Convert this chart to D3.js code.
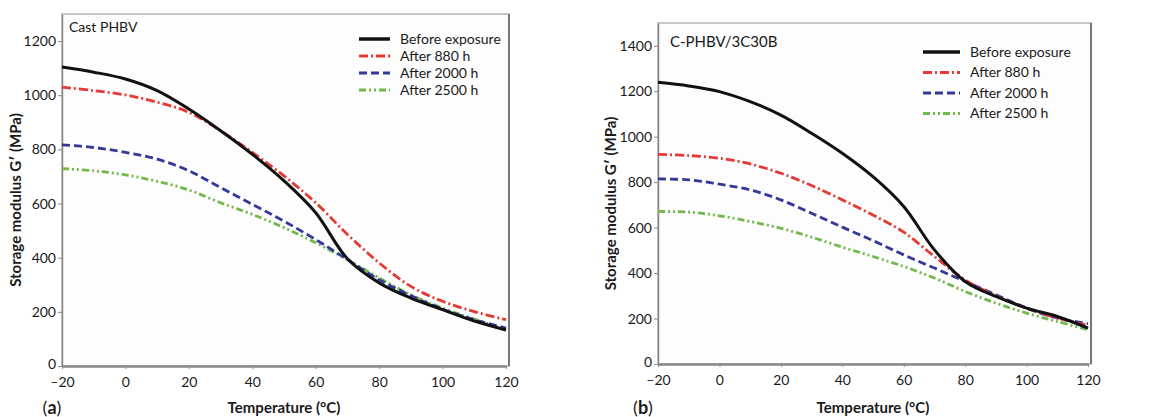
<!DOCTYPE html>
<html>
<head>
<meta charset="utf-8">
<script src="https://cdn.jsdelivr.net/npm/d3@7"></script>
<style>
  body { margin: 0; background: #fff; }
  svg text { font-family: Lato, 'Open Sans', sans-serif; fill: #1a1a1a; }
  .axis path, .axis line { stroke: #8a8a8a; }
</style>
</head>
<body>
<div id="chart"></div>
<script>
// temperature grid (°C) shared by all curves
const temps = [-20, -10, 0, 10, 20, 30, 40, 50, 60, 70, 80, 90, 100, 110, 120]
const xTicks = [-20, 0, 20, 40, 60, 80, 100, 120]

const seriesNames = ['Before exposure', 'After 880 h', 'After 2000 h', 'After 2500 h']

// panel (a) Cast PHBV, storage modulus (MPa)
const castBefore = [1104, 1085, 1060, 1017, 949, 869, 782, 684, 566, 396, 307, 251, 208, 166, 133]
const cast880    = [1030, 1017, 1001, 974, 937, 869, 789, 702, 603, 486, 381, 294, 239, 201, 171]
const cast2000   = [817, 807, 789, 764, 721, 659, 597, 535, 467, 393, 319, 260, 210, 171, 140]
const cast2500   = [729, 721, 706, 682, 650, 603, 560, 511, 455, 393, 325, 263, 214, 173, 133]

// panel (b) C-PHBV/3C30B
const compBefore = [1239, 1223, 1198, 1154, 1095, 1015, 927, 824, 693, 502, 363, 297, 246, 209, 158]
const comp880    = [922, 917, 905, 880, 839, 785, 722, 655, 580, 473, 370, 300, 246, 202, 170]
const comp2000   = [814, 810, 791, 766, 722, 663, 602, 543, 480, 422, 363, 305, 246, 202, 178]
const comp2500   = [671, 668, 652, 627, 597, 558, 514, 473, 429, 378, 319, 268, 224, 187, 151]

const styles = [
  { color: '#111111', dash: null,            width: 3 },
  { color: '#e53935', dash: '9,3,2,3',       width: 2.8 },
  { color: '#34389a', dash: '8,4',           width: 2.8 },
  { color: '#72b84a', dash: '7,3,2,3,2,3',   width: 2.8 }
]

const panels = [
  {
    title: 'Cast PHBV', tag: 'a', yMax: 1300, yTicks: [0, 200, 400, 600, 800, 1000, 1200],
    series: [castBefore, cast880, cast2000, cast2500],
    box: { left: 62, right: 506, top: 14, bottom: 366 },
    legend: { x: 359, y: 39, len: 31, gap: 17 },
    titleFs: 14, yLabelX: 16, tagX: 52
  },
  {
    title: 'C-PHBV/3C30B', tag: 'b', yMax: 1500, yTicks: [0, 200, 400, 600, 800, 1000, 1200, 1400],
    series: [compBefore, comp880, comp2000, comp2500],
    box: { left: 658, right: 1088, top: 23, bottom: 364 },
    legend: { x: 923, y: 52, len: 37, gap: 20.5 },
    titleFs: 15, yLabelX: 611, tagX: 643
  }
]

const svg = d3.select('#chart').append('svg')
  .attr('width', 1158)
  .attr('height', 417)

panels.forEach(p => {
  const b = p.box
  const x = d3.scaleLinear().domain([-20, 120]).range([b.left, b.right])
  const y = d3.scaleLinear().domain([0, p.yMax]).range([b.bottom, b.top])
  const g = svg.append('g')

  // plot frame
  g.append('rect')
    .attr('x', b.left).attr('y', b.top)
    .attr('width', b.right - b.left + 3).attr('height', b.bottom - b.top)
    .attr('fill', '#fdfdfd')
    .attr('stroke', '#b5b5b5')
    .attr('stroke-width', 1.5)
  // darker right edge
  g.append('line')
    .attr('x1', b.right + 3).attr('x2', b.right + 3)
    .attr('y1', b.top).attr('y2', b.bottom)
    .attr('stroke', '#777').attr('stroke-width', 2)

  // axes
  const xAxis = g.append('g')
    .attr('class', 'axis')
    .attr('transform', `translate(0, ${b.bottom})`)
    .call(d3.axisBottom(x).tickValues(xTicks).tickSize(3).tickSizeOuter(0)
      .tickFormat(d => d < 0 ? '\u2013' + Math.abs(d) : d))
  xAxis.select('.domain').attr('stroke-width', 2.5)
  xAxis.selectAll('text').attr('font-size', 14).attr('dy', '1.1em')

  const yAxis = g.append('g')
    .attr('class', 'axis')
    .attr('transform', `translate(${b.left}, 0)`)
    .call(d3.axisLeft(y).tickValues(p.yTicks).tickSize(4).tickSizeOuter(0)
      .tickFormat(d3.format('d')))
  yAxis.select('.domain').attr('stroke-width', 1.5)
  yAxis.selectAll('text').attr('font-size', 14).attr('x', -6)
  // lift the zero label a touch so it clears the first x label
  yAxis.selectAll('.tick').filter(d => d === 0).select('text').attr('dy', '0.15em')

  // curves
  const line = d3.line()
    .x((d, i) => x(temps[i]))
    .y(d => y(d))
    .curve(d3.curveCatmullRom.alpha(0.5))

  // draw back-to-front so the solid curve sits on top
  p.series.map((s, i) => i).reverse().forEach(i => {
    g.append('path')
      .datum(p.series[i])
      .attr('fill', 'none')
      .attr('stroke', styles[i].color)
      .attr('stroke-width', styles[i].width)
      .attr('stroke-dasharray', styles[i].dash)
      .attr('d', line)
  })

  // panel title
  g.append('text')
    .attr('x', b.left + (p.tag === 'a' ? 7 : 12))
    .attr('y', b.top + (p.tag === 'a' ? 18 : 24))
    .attr('font-size', p.titleFs)
    .text(p.title)

  // legend
  const L = p.legend
  seriesNames.forEach((name, i) => {
    const ly = L.y + i * L.gap
    g.append('line')
      .attr('x1', L.x).attr('x2', L.x + L.len)
      .attr('y1', ly).attr('y2', ly)
      .attr('stroke', styles[i].color)
      .attr('stroke-width', i === 0 ? 3.5 : 3)
      .attr('stroke-dasharray', styles[i].dash)
    g.append('text')
      .attr('x', L.x + L.len + 10)
      .attr('y', ly)
      .attr('dy', '0.35em')
      .attr('font-size', 14)
      .text(name)
  })

  // axis titles
  g.append('text')
    .attr('transform', `translate(${p.yLabelX}, ${(b.top + b.bottom) / 2 + 10}) rotate(-90)`)
    .attr('text-anchor', 'middle')
    .attr('dy', '0.35em')
    .attr('font-size', 15)
    .attr('font-weight', 'bold')
    .text('Storage modulus G\u2032 (MPa)')

  g.append('text')
    .attr('x', (b.left + b.right) / 2)
    .attr('y', 408)
    .attr('dy', '0.35em')
    .attr('text-anchor', 'middle')
    .attr('font-size', 15)
    .attr('font-weight', 'bold')
    .text('Temperature (\u00b0C)')

  // panel tag
  const tag = g.append('text')
    .attr('x', p.tagX)
    .attr('y', 408)
    .attr('dy', '0.35em')
    .attr('text-anchor', 'middle')
    .attr('font-size', 18)
  tag.append('tspan').text('(')
  tag.append('tspan').attr('font-weight', 'bold').text(p.tag)
  tag.append('tspan').text(')')
})
</script>
</body>
</html>
